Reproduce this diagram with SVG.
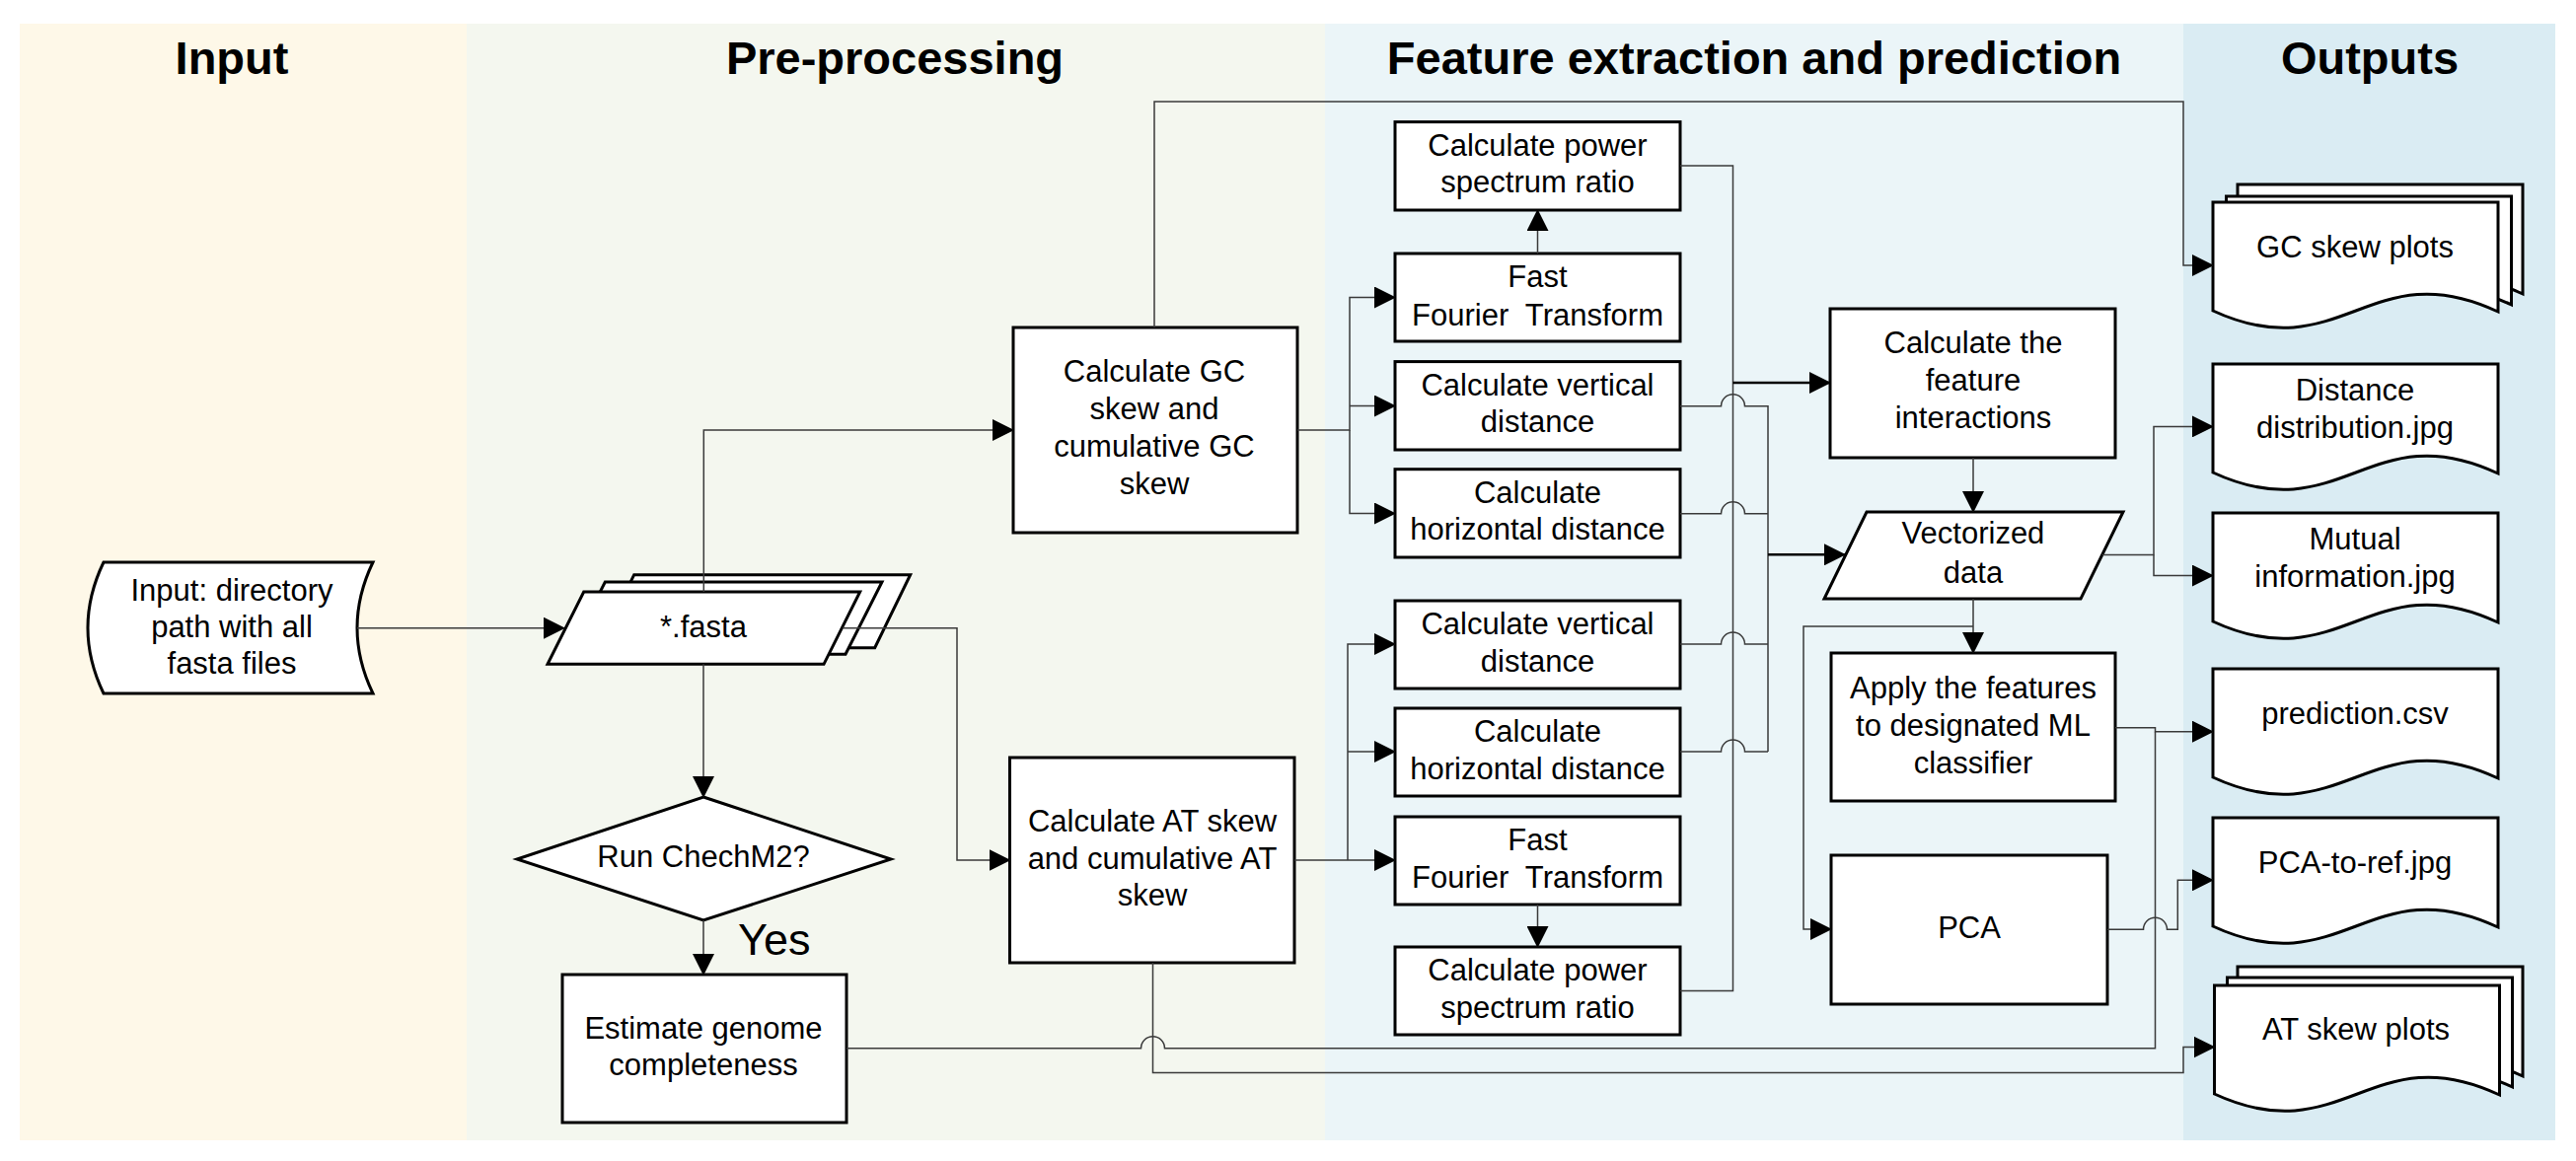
<svg xmlns="http://www.w3.org/2000/svg" width="2611" height="1177" viewBox="0 0 2611 1177">
<style>
.hd{font-family:"Liberation Sans",Arial,sans-serif;font-size:47px;font-weight:bold;fill:#000;text-anchor:middle}
.t{font-family:"Liberation Sans",Arial,sans-serif;font-size:31px;fill:#000;text-anchor:middle}
.pre{white-space:pre}
.shape{fill:#fff;stroke:#000;stroke-width:3;stroke-linejoin:miter}
.ln{fill:none;stroke:#3a3a3a;stroke-width:1.5}
.lnb{fill:none;stroke:#000;stroke-width:2.6}
.arr{marker-end:url(#ah)}
</style>
<defs>
<marker id="ah" markerUnits="userSpaceOnUse" markerWidth="22" markerHeight="22" refX="21" refY="11" orient="auto" viewBox="0 0 22 22">
<path d="M0,0 L22,11 L0,22 Z" fill="#000"/>
</marker>
</defs>
<rect width="2611" height="1177" fill="#fff"/>
<g id="lanes">
<rect x="20" y="24" width="453" height="1132" fill="#FEF8E8"/>
<rect x="473" y="24" width="870" height="1132" fill="#F4F7EF"/>
<rect x="1343" y="24" width="870" height="1132" fill="#EBF5F8"/>
<rect x="2213" y="24" width="377" height="1132" fill="#DAECF3"/>
<text class="hd" x="235" y="75">Input</text>
<text class="hd" x="907" y="75">Pre-processing</text>
<text class="hd" x="1778" y="75">Feature extraction and prediction</text>
<text class="hd" x="2402" y="75">Outputs</text>
</g>
<g id="input">
<path class="shape" d="M105,570 H378 Q346,636.5 378,703 H105 Q73,636.5 105,570 Z"/>
<text class="t"><tspan x="235" y="609">Input: directory</tspan><tspan x="235" y="646">path with all</tspan><tspan x="235" y="683">fasta files</tspan></text>
</g>
<g id="fasta">
<polygon class="shape" points="642.7,582.7 922.7,582.7 886.7,656.7 606.7,656.7"/>
<polygon class="shape" points="613.3,590 894,590 857,663.3 576.3,663.3"/>
<polygon class="shape" points="591.7,600 871.7,600 835,673.3 555,673.3"/>
<text class="t" x="713" y="646">*.fasta</text>
</g>
<g id="checkm">
<polygon class="shape" points="713,808 903,871 713,933 524,871"/>
<text class="t" x="713" y="879">Run ChechM2?</text>
</g>
<g id="estimate">
<rect class="shape" x="570" y="988" width="288" height="150"/>
<text class="t"><tspan x="713" y="1053">Estimate genome</tspan><tspan x="713" y="1090">completeness</tspan></text>
</g>
<g id="gcskew">
<rect class="shape" x="1027" y="332" width="288" height="208"/>
<text class="t"><tspan x="1170" y="387">Calculate GC</tspan><tspan x="1170" y="425">skew and</tspan><tspan x="1170" y="463">cumulative GC</tspan><tspan x="1170" y="501">skew</tspan></text>
</g>
<g id="atskew">
<rect class="shape" x="1023.5" y="768" width="288.5" height="208"/>
<text class="t"><tspan x="1168" y="843">Calculate AT skew</tspan><tspan x="1168" y="881">and cumulative AT</tspan><tspan x="1168" y="918">skew</tspan></text>
</g>
<g id="power1">
<rect class="shape" x="1414" y="123.6" width="289" height="89.4"/>
<text class="t"><tspan x="1558.5" y="158">Calculate power</tspan><tspan x="1558.5" y="195">spectrum ratio</tspan></text>
</g>
<g id="fft1">
<rect class="shape" x="1414" y="257" width="289" height="89"/>
<text class="t pre"><tspan x="1558.5" y="291">Fast</tspan><tspan x="1558.5" y="330">Fourier  Transform</tspan></text>
</g>
<g id="vert1">
<rect class="shape" x="1414" y="366.6" width="289" height="89.4"/>
<text class="t"><tspan x="1558.5" y="401">Calculate vertical</tspan><tspan x="1558.5" y="438">distance</tspan></text>
</g>
<g id="horiz1">
<rect class="shape" x="1414" y="475.7" width="289" height="89.3"/>
<text class="t"><tspan x="1558.5" y="510">Calculate</tspan><tspan x="1558.5" y="547">horizontal distance</tspan></text>
</g>
<g id="vert2">
<rect class="shape" x="1414" y="609" width="289" height="89"/>
<text class="t"><tspan x="1558.5" y="643">Calculate vertical</tspan><tspan x="1558.5" y="681">distance</tspan></text>
</g>
<g id="horiz2">
<rect class="shape" x="1414" y="718" width="289" height="89"/>
<text class="t"><tspan x="1558.5" y="752">Calculate</tspan><tspan x="1558.5" y="790">horizontal distance</tspan></text>
</g>
<g id="fft2">
<rect class="shape" x="1414" y="828" width="289" height="89"/>
<text class="t pre"><tspan x="1558.5" y="862">Fast</tspan><tspan x="1558.5" y="900">Fourier  Transform</tspan></text>
</g>
<g id="power2">
<rect class="shape" x="1414" y="960" width="289" height="89"/>
<text class="t"><tspan x="1558.5" y="994">Calculate power</tspan><tspan x="1558.5" y="1032">spectrum ratio</tspan></text>
</g>
<g id="interactions">
<rect class="shape" x="1855" y="313" width="289" height="151"/>
<text class="t"><tspan x="2000" y="358">Calculate the</tspan><tspan x="2000" y="396">feature</tspan><tspan x="2000" y="434">interactions</tspan></text>
</g>
<g id="vectorized">
<polygon class="shape" points="1892,519 2152,519 2109,607 1849,607"/>
<text class="t"><tspan x="2000" y="551">Vectorized</tspan><tspan x="2000" y="591">data</tspan></text>
</g>
<g id="apply">
<rect class="shape" x="1856" y="662" width="288" height="150"/>
<text class="t"><tspan x="2000" y="708">Apply the features</tspan><tspan x="2000" y="746">to designated ML</tspan><tspan x="2000" y="784">classifier</tspan></text>
</g>
<g id="pca">
<rect class="shape" x="1856" y="867" width="280" height="151"/>
<text class="t" x="1996" y="951">PCA</text>
</g>
<g id="gcplots">
<path class="shape" d="M2268,187 H2557 V298 C2427,237 2398,357 2268,297 Z"/>
<path class="shape" d="M2256.5,199 H2545.5 V309 C2415.5,248 2386.5,368 2256.5,308 Z"/>
<path class="shape" d="M2243,205 H2532 V316 C2402,255 2373,375 2243,315 Z"/>
<text class="t" x="2387" y="261">GC skew plots</text>
</g>
<g id="distance">
<path class="shape" d="M2243,369 H2532 V480 C2402,419 2373,539 2243,479 Z"/>
<text class="t"><tspan x="2387" y="406">Distance</tspan><tspan x="2387" y="444">distribution.jpg</tspan></text>
</g>
<g id="mutual">
<path class="shape" d="M2243,520 H2532 V631 C2402,570 2373,690 2243,630 Z"/>
<text class="t"><tspan x="2387" y="557">Mutual</tspan><tspan x="2387" y="595">information.jpg</tspan></text>
</g>
<g id="prediction">
<path class="shape" d="M2243,678 H2532 V789 C2402,728 2373,848 2243,788 Z"/>
<text class="t" x="2387" y="734">prediction.csv</text>
</g>
<g id="pcaref">
<path class="shape" d="M2243,829 H2532 V940 C2402,879 2373,999 2243,939 Z"/>
<text class="t" x="2387" y="885">PCA-to-ref.jpg</text>
</g>
<g id="atplots">
<path class="shape" d="M2268,980 H2557 V1091 C2427,1030 2398,1150 2268,1090 Z"/>
<path class="shape" d="M2257.5,991 H2546.5 V1102 C2416.5,1041 2387.5,1161 2257.5,1101 Z"/>
<path class="shape" d="M2244.5,999 H2533.5 V1110 C2403.5,1049 2374.5,1169 2244.5,1109 Z"/>
<text class="t" x="2388" y="1054">AT skew plots</text>
</g>
<g id="connectors">
<path class="ln arr" d="M362,636.7 H572"/>
<path class="ln arr" d="M713.3,600 V436 H1027"/>
<path class="ln arr" d="M854,636.7 H970 V872 H1023.5"/>
<path class="ln arr" d="M713,673.3 V808"/>
<path class="ln arr" d="M713,933 V988"/>
<text x="748" y="968" style="font-family:'Liberation Sans',Arial,sans-serif;font-size:45px;fill:#000">Yes</text>
<path class="ln arr" d="M1315,436 H1368 V301.5 H1414"/>
<path class="ln arr" d="M1368,411.5 H1414"/>
<path class="ln arr" d="M1368,436 V520.5 H1414"/>
<path class="ln arr" d="M1558.5,257 V213"/>
<path class="ln" d="M1703,168 H1756.5 V1004.5 H1703"/>
<path class="lnb arr" d="M1756.5,388 H1855"/>
<path class="ln" d="M1703,411.7 H1744.5 A12,12 0 0 1 1768.5,411.7 H1792 V762"/>
<path class="ln" d="M1703,520.7 H1744.5 A12,12 0 0 1 1768.5,520.7 H1792"/>
<path class="ln" d="M1703,653 H1744.5 A12,12 0 0 1 1768.5,653 H1792"/>
<path class="ln" d="M1703,762 H1744.5 A12,12 0 0 1 1768.5,762 H1792"/>
<path class="lnb arr" d="M1792,562.3 H1870"/>
<path class="ln arr" d="M1312,872 H1414"/>
<path class="ln arr" d="M1366,872 V653 H1414"/>
<path class="ln arr" d="M1366,762 H1414"/>
<path class="ln arr" d="M1558.5,917 V960"/>
<path class="ln arr" d="M2000,464 V519"/>
<path class="ln arr" d="M2000,607 V662"/>
<path class="ln arr" d="M2000,635 H1828 V942 H1856"/>
<path class="ln arr" d="M2130.7,562.6 H2183 V432.4 H2243"/>
<path class="ln arr" d="M2183,562.6 V583.6 H2243"/>
<path class="ln arr" d="M2144,737.7 H2184.5 V741.7 H2243"/>
<path class="ln" d="M858,1062.7 H1156.5 A12,12 0 0 1 1180.5,1062.7 H2184.5 V741.7"/>
<path class="ln arr" d="M2136,942.3 H2172.5 A12,12 0 0 1 2196.5,942.3 H2207.3 V892.3 H2243"/>
<path class="ln arr" d="M1168.5,976 V1087.5 H2213 V1061.6 H2244.5"/>
<path class="ln arr" d="M1170,332 V103 H2213 V269 H2243"/>
</g>
</svg>
